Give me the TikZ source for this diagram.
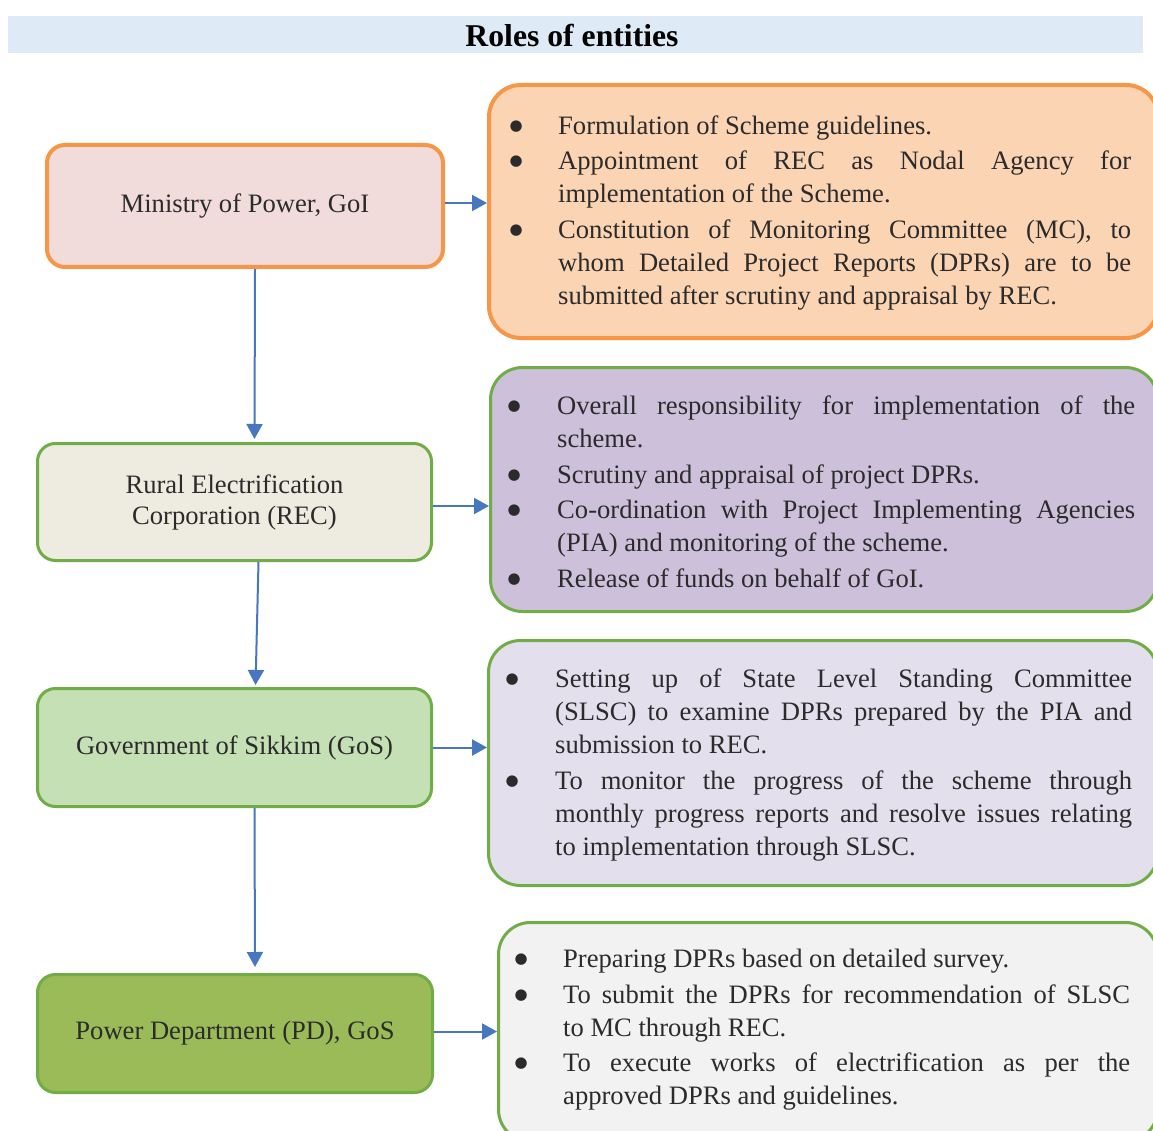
\documentclass[tikz,border=0pt]{standalone}
\usepackage{fontspec}
\setmainfont{Liberation Serif}
\newfontfamily\symbfont{DejaVu Sans}
\usetikzlibrary{arrows.meta}
\definecolor{titlebg}{HTML}{DEEAF6}
\definecolor{orangeline}{HTML}{F79646}
\definecolor{orangefill}{HTML}{FBD4B4}
\definecolor{pinkfill}{HTML}{F2DCDB}
\definecolor{greenline}{HTML}{70AD47}
\definecolor{recfill}{HTML}{EEECE1}
\definecolor{gosfill}{HTML}{C5E0B4}
\definecolor{pdfill}{HTML}{9BBB59}
\definecolor{purplefill}{HTML}{CCC0DA}
\definecolor{lavfill}{HTML}{E4DFEC}
\definecolor{grayfill}{HTML}{F2F2F2}
\definecolor{arrowblue}{HTML}{4677BF}
\definecolor{textgray}{HTML}{2B2B2B}
\hyphenpenalty=10000
\exhyphenpenalty=10000
\newcommand{\rolefont}{\fontsize{26.6}{33}\selectfont}
\newcommand{\bigbullet}{\makebox[0pt][c]{\raisebox{4.2pt}{\symbfont\fontsize{15}{16}\selectfont ●}}}
\newenvironment{rolelist}[1]{\begin{list}{\bigbullet}{%
  \setlength\leftmargin{#1}\setlength\labelwidth{0pt}\setlength\labelsep{#1}%
  \setlength\itemsep{2.5pt}\setlength\parsep{0pt}\setlength\topsep{0pt}%
  \setlength\partopsep{0pt}\setlength\itemindent{0pt}\setlength\listparindent{0pt}%
  \setlength\rightmargin{0pt}}}{\end{list}}
\newcommand{\rolebox}[3]{\begin{minipage}{#1}\rolefont\tolerance=10000\parskip=0pt
  \begin{rolelist}{#2}#3\end{rolelist}\end{minipage}}
\begin{document}
\begin{tikzpicture}[x=1pt,y=-1pt,
  entity/.style={draw=greenline, line width=3pt, rounded corners=18pt, anchor=north west,
    inner sep=0pt, align=center, text=textgray, font=\fontsize{26.6}{31}\selectfont},
  rolebg/.style={draw=greenline, line width=3pt, rounded corners=32pt, anchor=north west, inner sep=0pt},
  roletext/.style={anchor=west, inner sep=0pt, text=textgray},
  arr/.style={draw=arrowblue, line width=2pt, -{Triangle[length=15pt,width=16pt]}}]
\useasboundingbox (0,0) rectangle (1153,1131);
\fill[white] (0,0) rectangle (1153,1131);
% title
\node[fill=titlebg, minimum width=1135pt, minimum height=37pt, anchor=north west, inner sep=0pt] (band) at (8,16) {};
\node[font=\fontsize{31.7}{36}\selectfont\bfseries, inner sep=0pt] (title) at (572,35) {Roles of entities};
% left entities
\node[entity, draw=orangeline, line width=4pt, fill=pinkfill, minimum width=396pt, minimum height=122pt] (min) at (45,143) {Ministry of Power, GoI};
\node[entity, fill=recfill, minimum width=394pt, minimum height=117pt] (rec) at (36,442) {Rural Electrification\\Corporation (REC)};
\node[entity, fill=gosfill, minimum width=394pt, minimum height=118pt] (gos) at (36,687) {Government of Sikkim (GoS)};
\node[entity, fill=pdfill, minimum width=395pt, minimum height=118pt] (pd) at (36,973) {Power Department (PD), GoS};
% right role boxes
\node[rolebg, draw=orangeline, line width=4pt, fill=orangefill, minimum width=669pt, minimum height=253pt] (orb) at (487,83) {};
\node[rolebg, fill=purplefill, minimum width=667pt, minimum height=244pt] (pub) at (489,366) {};
\node[rolebg, fill=lavfill, minimum width=669pt, minimum height=245pt] (lab) at (487,639) {};
\node[rolebg, fill=grayfill, minimum width=659pt, minimum height=219pt] (grb) at (497,921) {};
% role texts
\node[roletext] (ort) at (516,213) {\rolebox{615pt}{42pt}{%
  \item Formulation of Scheme guidelines.
  \item Appointment of REC as Nodal Agency for\linebreak implementation of the Scheme.
  \item Constitution of Monitoring Committee (MC), to\linebreak whom Detailed Project Reports (DPRs) are to be\linebreak submitted after scrutiny and appraisal by REC.}};
\node[roletext] (put) at (514,492) {\rolebox{621pt}{43pt}{%
  \item Overall responsibility for implementation of the\linebreak scheme.
  \item Scrutiny and appraisal of project DPRs.
  \item Co-ordination with Project Implementing Agencies\linebreak (PIA) and monitoring of the scheme.
  \item Release of funds on behalf of GoI.}};
\node[roletext] (lat) at (512,765) {\rolebox{620pt}{43pt}{%
  \item Setting up of State Level Standing Committee\linebreak (SLSC) to examine DPRs prepared by the PIA and\linebreak submission to REC.
  \item To monitor the progress of the scheme through\linebreak monthly progress reports and resolve issues relating\linebreak to implementation through SLSC.}};
\node[roletext] (grt) at (521,1030) {\rolebox{609pt}{42pt}{%
  \item Preparing DPRs based on detailed survey.
  \item To submit the DPRs for recommendation of SLSC\linebreak to MC through REC.
  \item To execute works of electrification as per the\linebreak approved DPRs and guidelines.}};
% connectors
\draw[arr] ([yshift=3pt]min.east) -- ([yshift=3pt]min.east -| orb.west);
\draw[arr] ([yshift=-4pt]rec.east) -- ([yshift=-4pt]rec.east -| pub.west);
\draw[arr] (gos.east) -- (gos.east -| lab.west);
\draw[arr] ([yshift=2pt]pd.east) -- ([yshift=2pt]pd.east -| grb.west);
\draw[arr, shorten >=3pt] ([xshift=10pt]min.south) -- ([xshift=20pt]rec.north);
\draw[arr, shorten >=2pt] ([xshift=24pt]rec.south) -- ([xshift=21pt]gos.north);
\draw[arr, shorten >=6pt] ([xshift=20pt]gos.south) -- ([xshift=20pt]pd.north);
\end{tikzpicture}
\end{document}
